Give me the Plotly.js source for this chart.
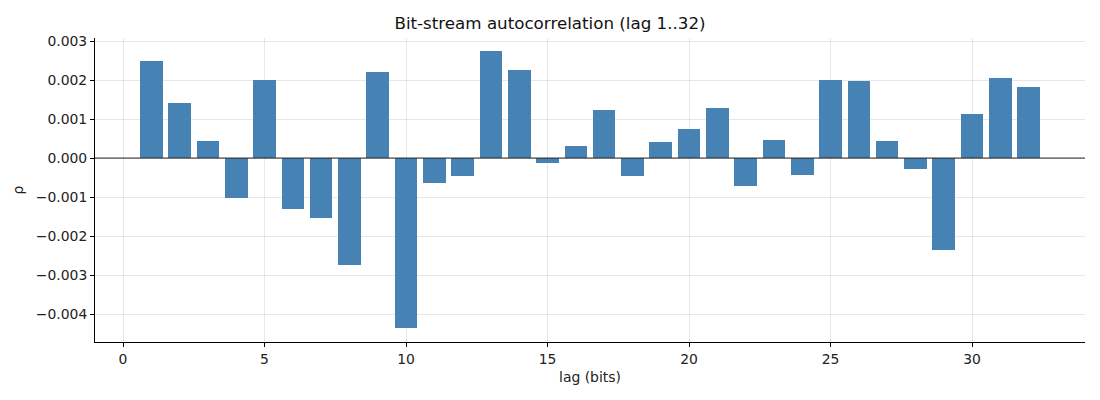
<!DOCTYPE html>
<html>
<head>
<meta charset="utf-8">
<script src="https://cdn.plot.ly/plotly-3.0.1.min.js"></script>
<style>
  html, body { margin: 0; padding: 0; background: #fff; }
  #chart { width: 1100px; height: 400px; }
</style>
</head>
<body>
<div id="chart"></div>
<script>
const lags = Array.from({ length: 32 }, (_, i) => i + 1);
const rho = [
   0.00249,  0.00141,  0.00044, -0.00102,  0.00200, -0.00131, -0.00154, -0.00274,
   0.00221, -0.00436, -0.00064, -0.00045,  0.00274,  0.00226, -0.00012,  0.00031,
   0.00123, -0.00045,  0.00041,  0.00074,  0.00128, -0.00071,  0.00046, -0.00043,
   0.00200,  0.00197,  0.00044, -0.00027, -0.00235,  0.00113,  0.00205,  0.00182
];
const xTicks = [0, 5, 10, 15, 20, 25, 30];
const yTicks = [-0.004, -0.003, -0.002, -0.001, 0, 0.001, 0.002, 0.003];

const FONT = 'DejaVu Sans, sans-serif';

const trace = {
  x: lags,
  y: rho,
  type: 'bar',
  width: 0.8,
  marker: { color: '#4682b4', line: { width: 0 } },
  hoverinfo: 'x+y',
  showlegend: false
};

const layout = {
  width: 1100,
  height: 400,
  margin: { l: 95, r: 15, t: 38, b: 58 },
  paper_bgcolor: '#fff',
  plot_bgcolor: '#fff',
  font: { family: FONT, size: 13.9, color: '#222' },
  title: {
    text: 'Bit-stream autocorrelation (lag 1..32)',
    font: { family: FONT, size: 16.7, color: '#111' },
    x: 0.5, xanchor: 'center', y: 0.9425, yanchor: 'middle'
  },
  xaxis: {
    range: [-0.99, 33.99],
    tickvals: xTicks,
    ticks: 'outside', ticklen: 4, tickcolor: '#000',
    showline: true, linecolor: '#000', linewidth: 1,
    showgrid: true, gridcolor: 'rgba(176,176,176,0.3)',
    zeroline: false,
    title: { text: 'lag (bits)', font: { family: FONT, size: 13.9 }, standoff: 6 }
  },
  yaxis: {
    range: [-0.004718, 0.00308],
    tickvals: yTicks,
    tickformat: '.3f',
    ticks: 'outside', ticklen: 4, tickcolor: '#000',
    showline: true, linecolor: '#000', linewidth: 1,
    showgrid: true, gridcolor: 'rgba(176,176,176,0.3)',
    zeroline: false,
    title: { text: 'ρ', font: { family: FONT, size: 13.9 }, standoff: 8 }
  },
  shapes: [{
    type: 'line', xref: 'paper', yref: 'y',
    x0: 0, x1: 1, y0: 0, y1: 0,
    line: { color: '#222', width: 1 }
  }],
  bargap: 0
};

Plotly.newPlot('chart', [trace], layout, { displayModeBar: false, staticPlot: true });
</script>
</body>
</html>
